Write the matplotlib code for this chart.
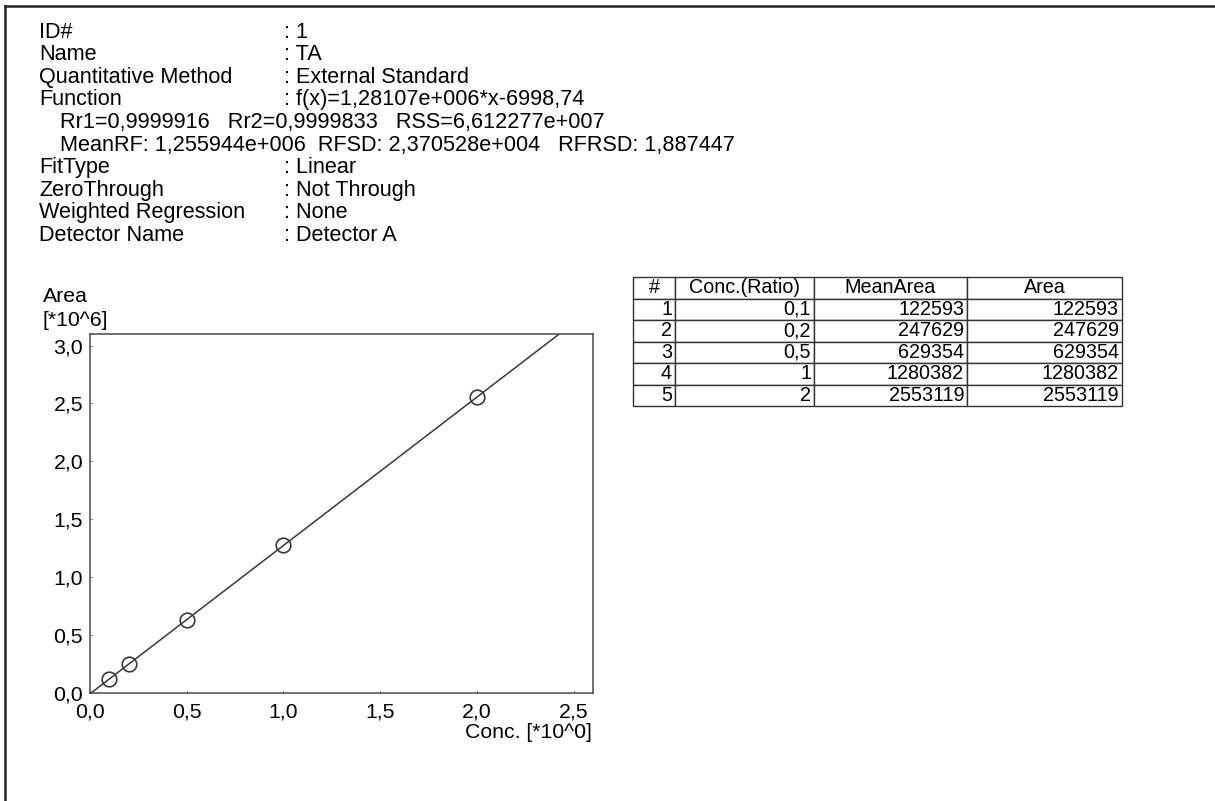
import numpy as np
from matplotlib import pyplot as plt
from matplotlib.lines import Line2D

plt.rcParams['font.family'] = ['Liberation Sans', 'DejaVu Sans']

#---- Data

conc = [0.1, 0.2, 0.5, 1.0, 2.0]
area = [122593, 247629, 629354, 1280382, 2553119]
conc_labels = ['0,1', '0,2', '0,5', '1', '2']
slope = 1.28107e6
intercept = -6998.74

info_keys = ['ID#', 'Name', 'Quantitative Method', 'Function', None, None,
             'FitType', 'ZeroThrough', 'Weighted Regression', 'Detector Name']
info_vals = [': 1', ': TA', ': External Standard', ': f(x)=1,28107e+006*x-6998,74',
             None, None, ': Linear', ': Not Through', ': None', ': Detector A']
stats_lines = {4: 'Rr1=0,9999916   Rr2=0,9999833   RSS=6,612277e+007',
               5: 'MeanRF: 1,255944e+006  RFSD: 2,370528e+004   RFRSD: 1,887447'}

table_header = ['#', 'Conc.(Ratio)', 'MeanArea', 'Area']
col_px = [42, 139, 153, 155]

xticks = [0.0, 0.5, 1.0, 1.5, 2.0, 2.5]
yticks = [0.0, 0.5, 1.0, 1.5, 2.0, 2.5, 3.0]


def fmt(v):
    return ('%.1f' % v).replace('.', ',')


#---- Figure

W, H = 1215, 801
fig = plt.figure(figsize=(W / 100, H / 100), dpi=100)

# page border (left and top)
fig.add_artist(Line2D([5 / W, 5 / W], [0, 1 - 6 / H], color='#222222', lw=1.8))
fig.add_artist(Line2D([5 / W, 1], [1 - 6 / H, 1 - 6 / H], color='#222222', lw=1.8))

#---> header text
fs = 15.6
for i, (k, v) in enumerate(zip(info_keys, info_vals)):
    y = 1 - (32 + 22.6 * i) / H
    if k is None:
        fig.text(60 / W, y, stats_lines[i], fontsize=fs, va='center', ha='left')
    else:
        fig.text(39 / W, y, k, fontsize=fs, va='center', ha='left')
        fig.text(284 / W, y, v, fontsize=fs, va='center', ha='left')

#---> calibration plot
ax = fig.add_axes([90 / W, 1 - 693 / H, 503 / W, 359 / H])
xs = np.array([0.0, 2.6])
ax.plot(xs, (slope * xs + intercept) / 1e6, color='#3a3a3a', lw=1.1)
ax.plot(conc, np.array(area) / 1e6, 'o', mfc='none', mec='#3a3a3a', mew=1.2, ms=10.5)
ax.set_xlim(0, 2.6)
ax.set_ylim(0, 3.1)
ax.set_xticks(xticks)
ax.set_xticklabels([fmt(t) for t in xticks])
ax.set_yticks(yticks)
ax.set_yticklabels([fmt(t) for t in yticks])
ax.tick_params(direction='in', length=2, width=0.6, color='#888888', labelsize=15.3)
ax.tick_params(axis='x', pad=7)
ax.tick_params(axis='y', pad=5)
for s in ax.spines.values():
    s.set_color('#4a4a4a')
    s.set_linewidth(1.1)

fig.text(43 / W, 1 - 297 / H, 'Area', fontsize=15.3, va='center', ha='left')
fig.text(43 / W, 1 - 321 / H, '[*10^6]', fontsize=15.3, va='center', ha='left')
fig.text(592 / W, 1 - 732 / H, 'Conc. [*10^0]', fontsize=15.3, va='center', ha='right')

#---> data table
tax = fig.add_axes([633 / W, 1 - 406 / H, 489 / W, 129 / H])
tax.axis('off')
rows = [[str(i + 1), c, str(a), str(a)] for i, (c, a) in enumerate(zip(conc_labels, area))]
tot = sum(col_px)
tbl = tax.table(cellText=rows, colLabels=table_header, colWidths=[c / tot for c in col_px],
                cellLoc='right', colLoc='center', bbox=[0, 0, 1, 1])
tbl.auto_set_font_size(False)
for (r, c), cell in tbl.get_celld().items():
    cell.set_linewidth(1.0)
    cell.set_edgecolor('#333333')
    cell.PAD = 3.0 / col_px[c]
    cell.get_text().set_fontsize(14.2)
    cell.get_text().set_va('center')

fig.savefig('out.png', dpi=100)
